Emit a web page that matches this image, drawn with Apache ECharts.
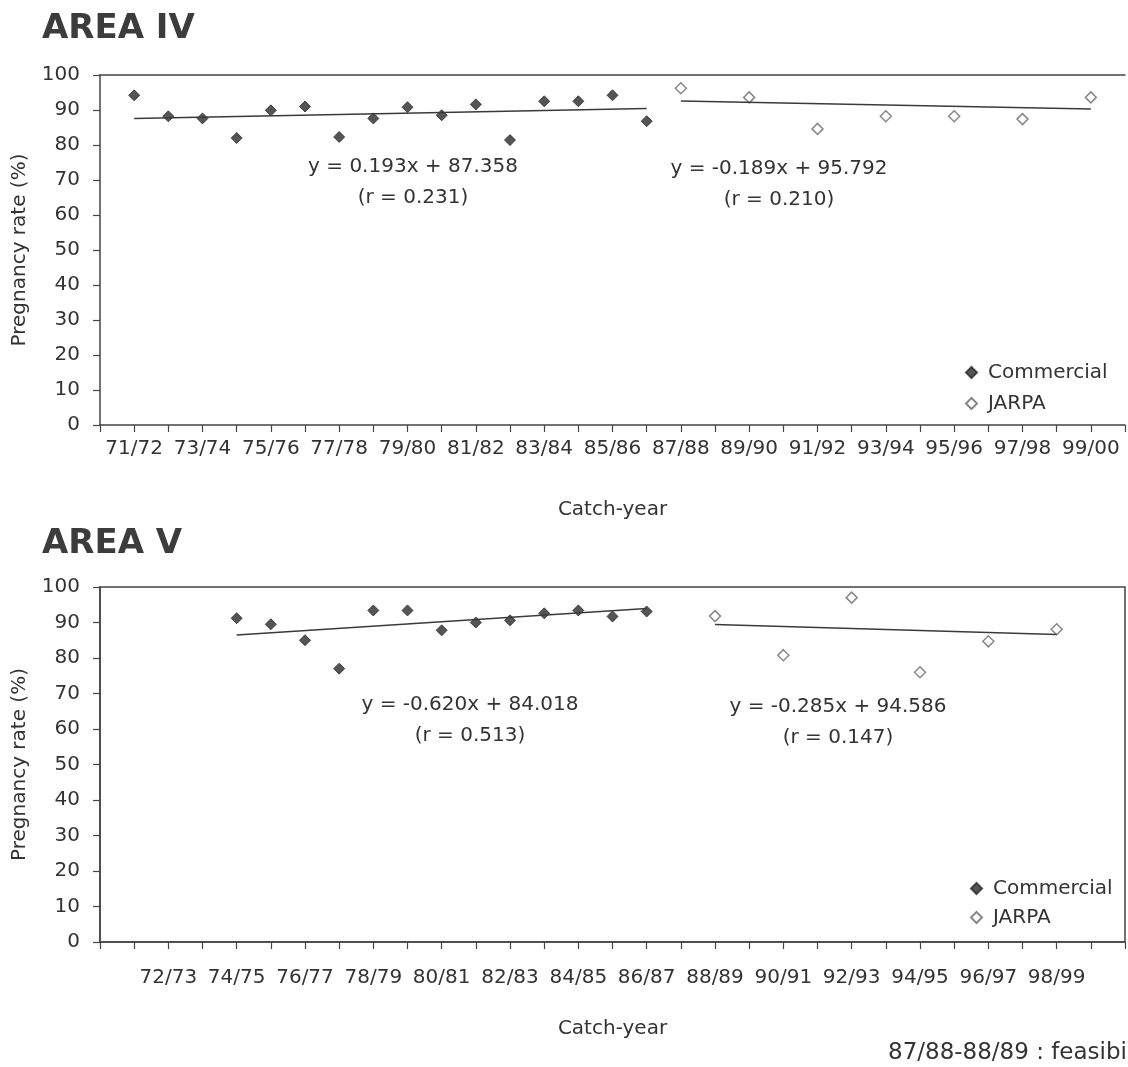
<!DOCTYPE html>
<html>
<head>
<meta charset="utf-8">
<script src="https://cdn.jsdelivr.net/npm/echarts@6/dist/echarts.min.js"></script>
<style>
  html, body { margin: 0; padding: 0; background: #ffffff; }
  #chart { width: 1128px; height: 1067px; }
</style>
</head>
<body>
<div id="chart"></div>
<script>
// Catch-years along the x axis; position on the axis = index + 1
const catchYears = ['71/72','72/73','73/74','74/75','75/76','76/77','77/78','78/79','79/80','80/81',
  '81/82','82/83','83/84','84/85','85/86','86/87','87/88','88/89','89/90','90/91',
  '91/92','92/93','93/94','94/95','95/96','96/97','97/98','98/99','99/00'];

// Tick labels printed under each panel
const areaIVTickLabels = ['71/72','73/74','75/76','77/78','79/80','81/82','83/84','85/86',
  '87/88','89/90','91/92','93/94','95/96','97/98','99/00'];
const areaVTickLabels = ['72/73','74/75','76/77','78/79','80/81','82/83','84/85','86/87',
  '88/89','90/91','92/93','94/95','96/97','98/99'];
const yTicks = [0, 10, 20, 30, 40, 50, 60, 70, 80, 90, 100];

// Area IV pregnancy rates (%)
const areaIVCommercialYears = ['71/72','72/73','73/74','74/75','75/76','76/77','77/78','78/79',
  '79/80','80/81','81/82','82/83','83/84','84/85','85/86','86/87'];
const areaIVCommercial = [94.2, 88.2, 87.6, 82.0, 89.9, 91.0, 82.3, 87.6, 90.8, 88.5, 91.6, 81.4, 92.5, 92.5, 94.2, 86.8];
const areaIVJarpaYears = ['87/88','89/90','91/92','93/94','95/96','97/98','99/00'];
const areaIVJarpa = [96.2, 93.6, 84.6, 88.2, 88.2, 87.4, 93.6];

// Area V pregnancy rates (%)
const areaVCommercialYears = ['74/75','75/76','76/77','77/78','78/79','79/80','80/81','81/82',
  '82/83','83/84','84/85','85/86','86/87'];
const areaVCommercial = [91.2, 89.5, 85.0, 77.0, 93.4, 93.4, 87.8, 90.0, 90.6, 92.6, 93.4, 91.7, 93.1];
const areaVJarpaYears = ['88/89','90/91','92/93','94/95','96/97','98/99'];
const areaVJarpa = [91.8, 80.8, 97.0, 76.0, 84.7, 88.1];

// Linear fits [slope, intercept] against the catch-year index
const areaIVCommercialFit = [0.193, 87.358];
const areaIVJarpaFit = [-0.189, 95.792];
const areaVCommercialFit = [0.620, 84.018];   // the commercial fit rises over the years
const areaVJarpaFit = [-0.285, 94.586];

// Printed regression notes
const areaIVCommercialNote = ['y = 0.193x + 87.358', '(r = 0.231)'];
const areaIVJarpaNote = ['y = -0.189x + 95.792', '(r = 0.210)'];
const areaVCommercialNote = ['y = -0.620x + 84.018', '(r = 0.513)'];
const areaVJarpaNote = ['y = -0.285x + 94.586', '(r = 0.147)'];

const FONT = 'DejaVu Sans';
const FS = 20;
const INK = '#333333';
const AXIS = '#444444';

const xOf = y => catchYears.indexOf(y) + 1;
const points = (years, vals) => years.map((y, i) => [xOf(y), vals[i]]);
const fitLine = (years, fit) => {
  const x0 = xOf(years[0]), x1 = xOf(years[years.length - 1]);
  return [[x0, fit[0] * x0 + fit[1]], [x1, fit[0] * x1 + fit[1]]];
};

function xAxisFor(gridIndex, tickLabels, labelMargin, nameGap) {
  return {
    type: 'value', gridIndex, min: 0, max: 30, interval: 1,
    name: 'Catch-year', nameLocation: 'middle', nameGap,
    nameTextStyle: { fontFamily: FONT, fontSize: FS, color: INK },
    axisLine: { show: true, lineStyle: { color: AXIS, width: 1.5 } },
    axisTick: { show: true, length: 7, lineStyle: { color: AXIS, width: 1.2 } },
    splitLine: { show: false },
    axisLabel: {
      fontFamily: FONT, fontSize: FS, color: INK, margin: labelMargin,
      showMinLabel: true, showMaxLabel: true, hideOverlap: false,
      formatter: v => {
        const lbl = catchYears[v - 1];
        return lbl && tickLabels.includes(lbl) ? lbl : '';
      }
    }
  };
}

// Plain frame line along the top of a panel
function topFrame(gridIndex) {
  return {
    type: 'value', gridIndex, position: 'top', min: 0, max: 30,
    axisLine: { show: true, lineStyle: { color: AXIS, width: 1.5 } },
    axisTick: { show: false }, axisLabel: { show: false }, splitLine: { show: false }
  };
}

function yAxisFor(gridIndex) {
  return {
    type: 'value', gridIndex, min: yTicks[0], max: yTicks[yTicks.length - 1], interval: 10,
    name: 'Pregnancy rate (%)', nameLocation: 'middle', nameGap: 70, nameRotate: 90,
    nameTextStyle: { fontFamily: FONT, fontSize: FS, color: INK },
    axisLine: { show: true, lineStyle: { color: AXIS, width: 1.5 } },
    axisTick: { show: true, length: 7, lineStyle: { color: AXIS, width: 1.2 } },
    splitLine: { show: false },
    axisLabel: { fontFamily: FONT, fontSize: FS, color: INK, margin: 20 }
  };
}

const commercialStyle = {
  type: 'scatter', symbol: 'diamond', symbolSize: 11,
  itemStyle: { color: '#2a2a2a', borderColor: '#2a2a2a', borderWidth: 1 }
};
const jarpaStyle = {
  type: 'scatter', symbol: 'diamond', symbolSize: 11,
  itemStyle: { color: '#ffffff', borderColor: '#6a6a6a', borderWidth: 1.5 }
};
const fitStyle = {
  type: 'line', showSymbol: false, symbol: 'none', silent: true,
  lineStyle: { color: '#3a3a3a', width: 1.5 }
};

function note(lines, cx, cy) {
  return lines.map((t, i) => ({
    type: 'text', x: cx, y: cy + i * 31,
    style: { text: t, fill: INK, font: FS + 'px "' + FONT + '"', textAlign: 'center', textVerticalAlign: 'middle' }
  }));
}

function legendFor(left, top, gap) {
  return {
    left, top, orient: 'vertical', itemGap: gap, itemWidth: 11, itemHeight: 11,
    data: ['Commercial', 'JARPA'], selectedMode: false,
    textStyle: { fontFamily: FONT, fontSize: FS, color: INK, lineHeight: 21, padding: [0, 0, 0, 6] }
  };
}

const option = {
  animation: false,
  backgroundColor: '#ffffff',
  textStyle: { fontFamily: FONT },
  grid: [
    { left: 100, top: 75, width: 1029, height: 350, show: false },
    { left: 100, top: 587, width: 1026, height: 355, show: true, borderColor: AXIS, borderWidth: 1.5, backgroundColor: 'transparent' }
  ],
  xAxis: [
    xAxisFor(0, areaIVTickLabels, 14, 75),
    xAxisFor(1, areaVTickLabels, 26, 77),
    topFrame(0)
  ],
  yAxis: [yAxisFor(0), yAxisFor(1)],
  legend: [legendFor(960, 357, 10), legendFor(965, 873, 8)],
  series: [
    Object.assign({ name: 'Commercial', xAxisIndex: 0, yAxisIndex: 0, data: points(areaIVCommercialYears, areaIVCommercial) }, commercialStyle),
    Object.assign({ name: 'JARPA', xAxisIndex: 0, yAxisIndex: 0, data: points(areaIVJarpaYears, areaIVJarpa) }, jarpaStyle),
    Object.assign({ name: 'Area IV commercial fit', xAxisIndex: 0, yAxisIndex: 0, data: fitLine(areaIVCommercialYears, areaIVCommercialFit) }, fitStyle),
    Object.assign({ name: 'Area IV JARPA fit', xAxisIndex: 0, yAxisIndex: 0, data: fitLine(areaIVJarpaYears, areaIVJarpaFit) }, fitStyle),
    Object.assign({ name: 'Commercial', xAxisIndex: 1, yAxisIndex: 1, data: points(areaVCommercialYears, areaVCommercial) }, commercialStyle),
    Object.assign({ name: 'JARPA', xAxisIndex: 1, yAxisIndex: 1, data: points(areaVJarpaYears, areaVJarpa) }, jarpaStyle),
    Object.assign({ name: 'Area V commercial fit', xAxisIndex: 1, yAxisIndex: 1, data: fitLine(areaVCommercialYears, areaVCommercialFit) }, fitStyle),
    Object.assign({ name: 'Area V JARPA fit', xAxisIndex: 1, yAxisIndex: 1, data: fitLine(areaVJarpaYears, areaVJarpaFit) }, fitStyle)
  ],
  graphic: [
    { type: 'text', x: 42, y: 29, style: { text: 'AREA IV', fill: '#3c3c3c', font: 'bold 34px "' + FONT + '"', textVerticalAlign: 'middle' } },
    { type: 'text', x: 42, y: 544, style: { text: 'AREA V', fill: '#3c3c3c', font: 'bold 34px "' + FONT + '"', textVerticalAlign: 'middle' } },
    ...note(areaIVCommercialNote, 413, 167),
    ...note(areaIVJarpaNote, 779, 169),
    ...note(areaVCommercialNote, 470, 705),
    ...note(areaVJarpaNote, 838, 707),
    { type: 'text', x: 888, y: 1053, style: { text: '87/88-88/89 : feasibility study', fill: INK, font: '23px "' + FONT + '"', textVerticalAlign: 'middle' } }
  ]
};

const chart = echarts.init(document.getElementById('chart'), null, { renderer: 'canvas' });
chart.setOption(option);
</script>
</body>
</html>
